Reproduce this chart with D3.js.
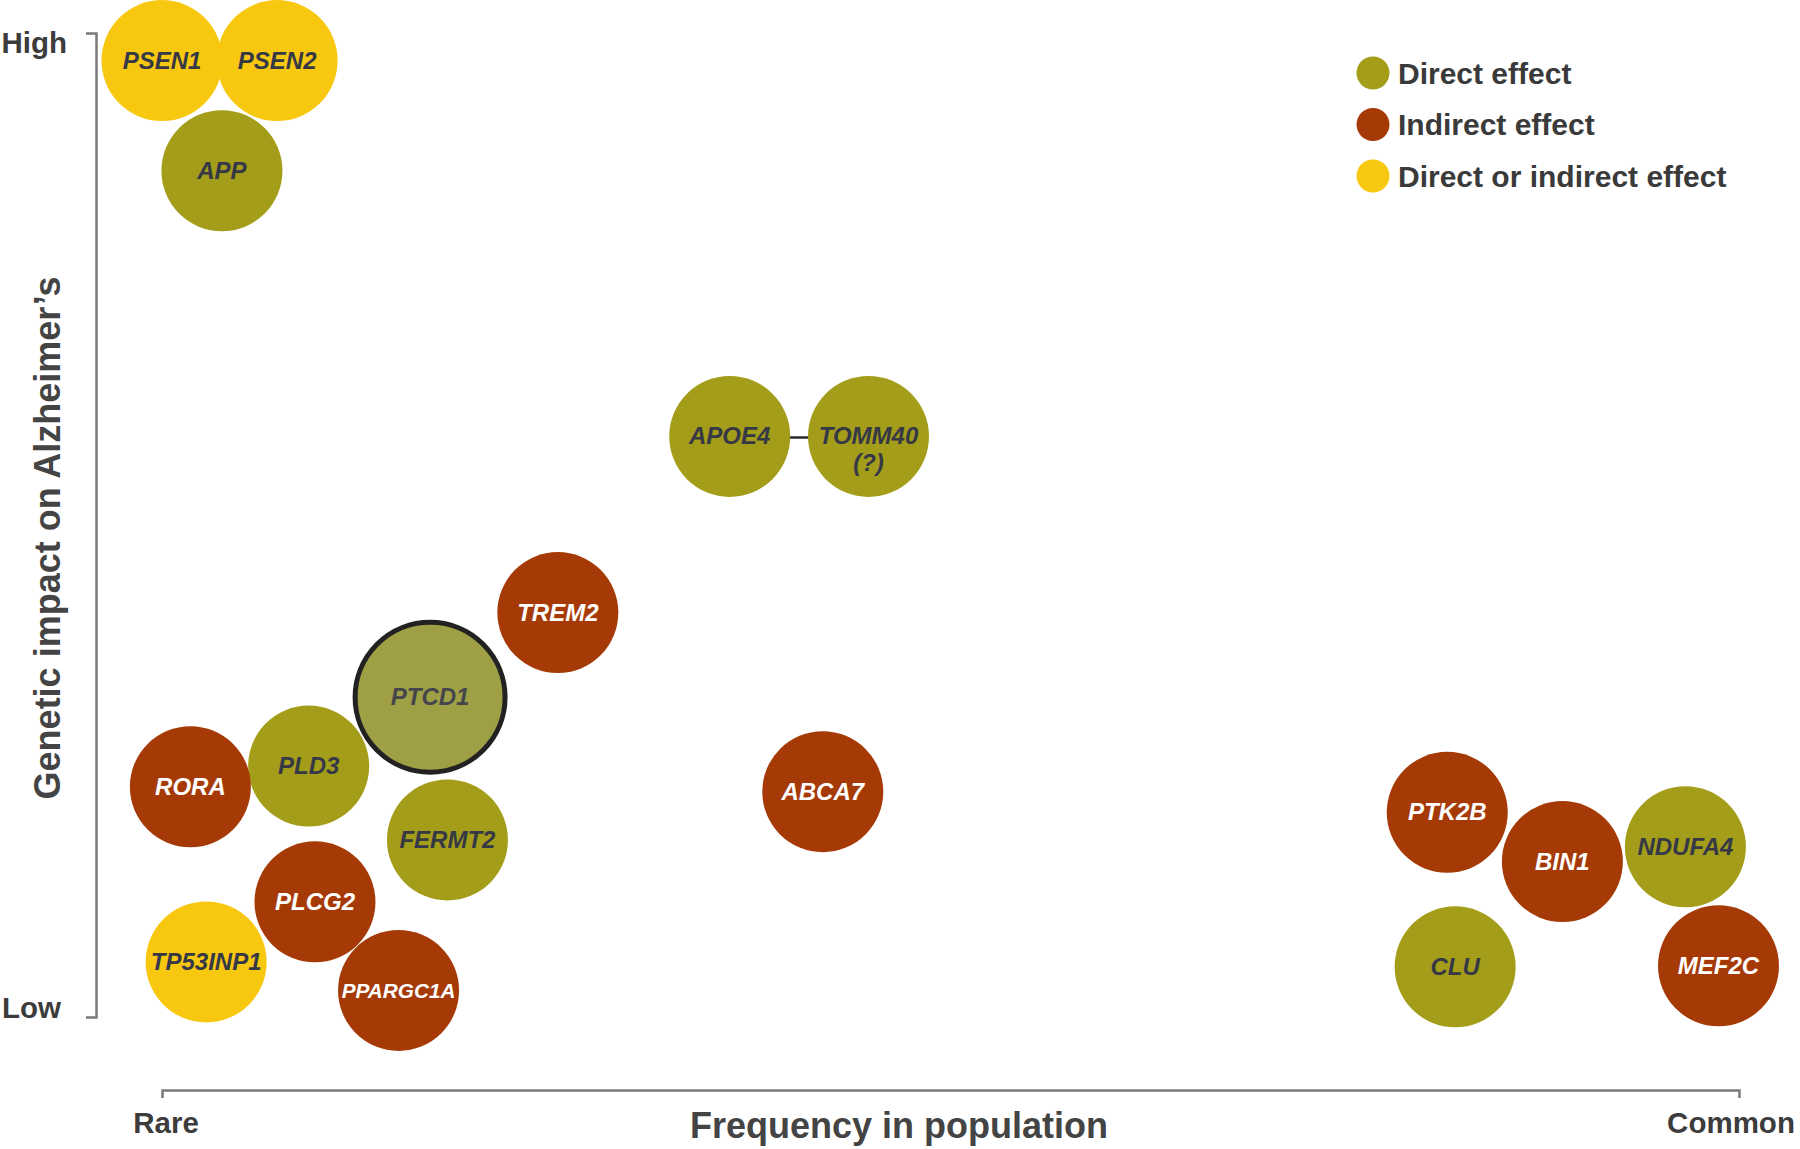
<!DOCTYPE html>
<html>
<head>
<meta charset="utf-8">
<script src="https://cdn.jsdelivr.net/npm/d3@7"></script>
<style>
  html, body { margin: 0; padding: 0; background: #fff; }
  svg { display: block; }
  text { font-family: "Liberation Sans", Arial, Helvetica, sans-serif; }
</style>
</head>
<body>
<script>
// ---------- data ----------
const genes   = ["PSEN1","PSEN2","APP","APOE4","TOMM40\n(?)","TREM2","PTCD1","PLD3","RORA","FERMT2","ABCA7","PLCG2","TP53INP1","PPARGC1A","PTK2B","BIN1","NDUFA4","CLU","MEF2C"];
const frequency = [0.0, 7.3, 3.8, 36.0, 44.8, 25.1, 17.0, 9.3, 1.8, 18.1, 41.9, 9.7, 2.8, 15.0, 81.5, 88.8, 96.6, 82.0, 98.7];
const impact    = [97.2, 97.2, 86.0, 59.0, 59.0, 41.1, 32.5, 25.5, 23.4, 18.0, 22.9, 11.7, 5.6, 2.7, 20.8, 15.8, 17.3, 5.1, 5.2];
const effect    = ["either","either","direct","direct","direct","indirect","direct","direct","indirect","direct","indirect","indirect","either","indirect","indirect","indirect","direct","direct","indirect"];
const sizeValue = [1, 1, 1, 1, 1, 1, 1.64, 1, 1, 1, 1, 1, 1, 1, 1, 1, 1, 1, 1];
const highlighted = ["PTCD1"];
const links = [["APOE4", "TOMM40\n(?)"]];

const effectKeys   = ["direct", "indirect", "either"];
const effectLabels = ["Direct effect", "Indirect effect", "Direct or indirect effect"];
const yTickLabels  = ["Low", "High"];
const xTickLabels  = ["Rare", "Common"];
const xTitle = "Frequency in population";
const yTitle = "Genetic impact on Alzheimer\u2019s";

// ---------- setup ----------
const W = 1800, H = 1149;
const svg = d3.select("body").append("svg").attr("width", W).attr("height", H);

const x = d3.scaleLinear().domain([0, 100]).range([162, 1739]);
const y = d3.scaleLinear().domain([0, 100]).range([1017, 33]);
const r = d3.scaleSqrt().domain([0, 1]).range([0, 60.5]);
const color = d3.scaleOrdinal().domain(effectKeys).range(["#a39d19", "#a63a07", "#f8c811"]);
const textColor = d3.scaleOrdinal().domain(effectKeys).range(["#363945", "#ffffff", "#363945"]);

const data = genes.map((g, i) => ({
  name: g, fx: frequency[i], fy: impact[i], effect: effect[i], size: sizeValue[i],
  hl: highlighted.includes(g)
}));

// ---------- axes ----------
const axisColor = "#7a7a7a";
const yAxis = svg.append("g").attr("transform", `translate(96,0)`)
  .call(d3.axisLeft(y).tickValues([]).tickSizeOuter(10));
yAxis.select(".domain").attr("stroke", axisColor).attr("stroke-width", 2.5);

const xAxis = svg.append("g").attr("transform", `translate(0,1090)`)
  .call(d3.axisBottom(x).tickValues([]).tickSizeOuter(8));
xAxis.select(".domain").attr("stroke", axisColor).attr("stroke-width", 2.5);

// axis end labels
svg.append("text").text(yTickLabels[1]).attr("x", 67).attr("y", y(100) + 20)
  .attr("text-anchor", "end").attr("font-size", 29.5).attr("font-weight", "bold").attr("fill", "#3c3c3c");
svg.append("text").text(yTickLabels[0]).attr("x", 61).attr("y", y(0) + 1)
  .attr("text-anchor", "end").attr("font-size", 29.5).attr("font-weight", "bold").attr("fill", "#3c3c3c");
svg.append("text").text(xTickLabels[0]).attr("x", x(0) + 4).attr("y", 1133)
  .attr("text-anchor", "middle").attr("font-size", 29.5).attr("font-weight", "bold").attr("fill", "#3c3c3c");
svg.append("text").text(xTickLabels[1]).attr("x", x(100) - 8).attr("y", 1133)
  .attr("text-anchor", "middle").attr("font-size", 29.5).attr("font-weight", "bold").attr("fill", "#3c3c3c");

// titles
svg.append("text").text(xTitle).attr("x", 899).attr("y", 1138)
  .attr("text-anchor", "middle").attr("font-size", 36).attr("font-weight", "bold").attr("fill", "#444");
svg.append("text").text(yTitle)
  .attr("transform", "translate(60,538) rotate(-90)")
  .attr("text-anchor", "middle").attr("font-size", 36).attr("font-weight", "bold").attr("fill", "#444");

// ---------- links ----------
const byName = new Map(data.map(d => [d.name, d]));
svg.append("g").selectAll("line").data(links).join("line")
  .attr("x1", l => x(byName.get(l[0]).fx)).attr("y1", l => y(byName.get(l[0]).fy) + 1)
  .attr("x2", l => x(byName.get(l[1]).fx)).attr("y2", l => y(byName.get(l[1]).fy) + 1)
  .attr("stroke", "#2a2a2a").attr("stroke-width", 2.5);

// ---------- bubbles ----------
const nodes = svg.append("g").selectAll("g").data(data).join("g")
  .attr("transform", d => `translate(${x(d.fx)},${y(d.fy)})`);

nodes.append("circle")
  .attr("r", d => r(d.size) - (d.hl ? 2.5 : 0))
  .attr("fill", d => d.hl ? "#9fa045" : color(d.effect))
  .attr("stroke", d => d.hl ? "#222" : "none")
  .attr("stroke-width", d => d.hl ? 5 : 0);

nodes.each(function(d) {
  const g = d3.select(this);
  const lines = d.name.split("\n");
  const fs = 24;
  const t = g.append("text")
    .attr("text-anchor", "middle")
    .attr("font-size", fs)
    .attr("font-weight", "bold")
    .attr("font-style", "italic")
    .attr("fill", d.hl ? "#45464c" : textColor(d.effect));
  lines.forEach((ln, i) => {
    t.append("tspan").attr("x", 0).attr("y", i * 27 + 8).text(ln);
  });
  // shrink label if wider than circle
  const maxW = r(1) * 2 * 0.94;
  const w = t.node().getBBox().width;
  if (w > maxW) t.attr("font-size", fs * maxW / w);
});

// ---------- legend ----------
const legend = svg.append("g").attr("transform", "translate(1373,73)");
const li = legend.selectAll("g").data(effectKeys).join("g")
  .attr("transform", (d, i) => `translate(0,${i * 51.5})`);
li.append("circle").attr("r", 16.5).attr("fill", d => color(d));
li.append("text").attr("x", 25).attr("y", 10.5)
  .attr("font-size", 30).attr("font-weight", "bold").attr("fill", "#3a3a3a")
  .text((d, i) => effectLabels[i]);
</script>
</body>
</html>
